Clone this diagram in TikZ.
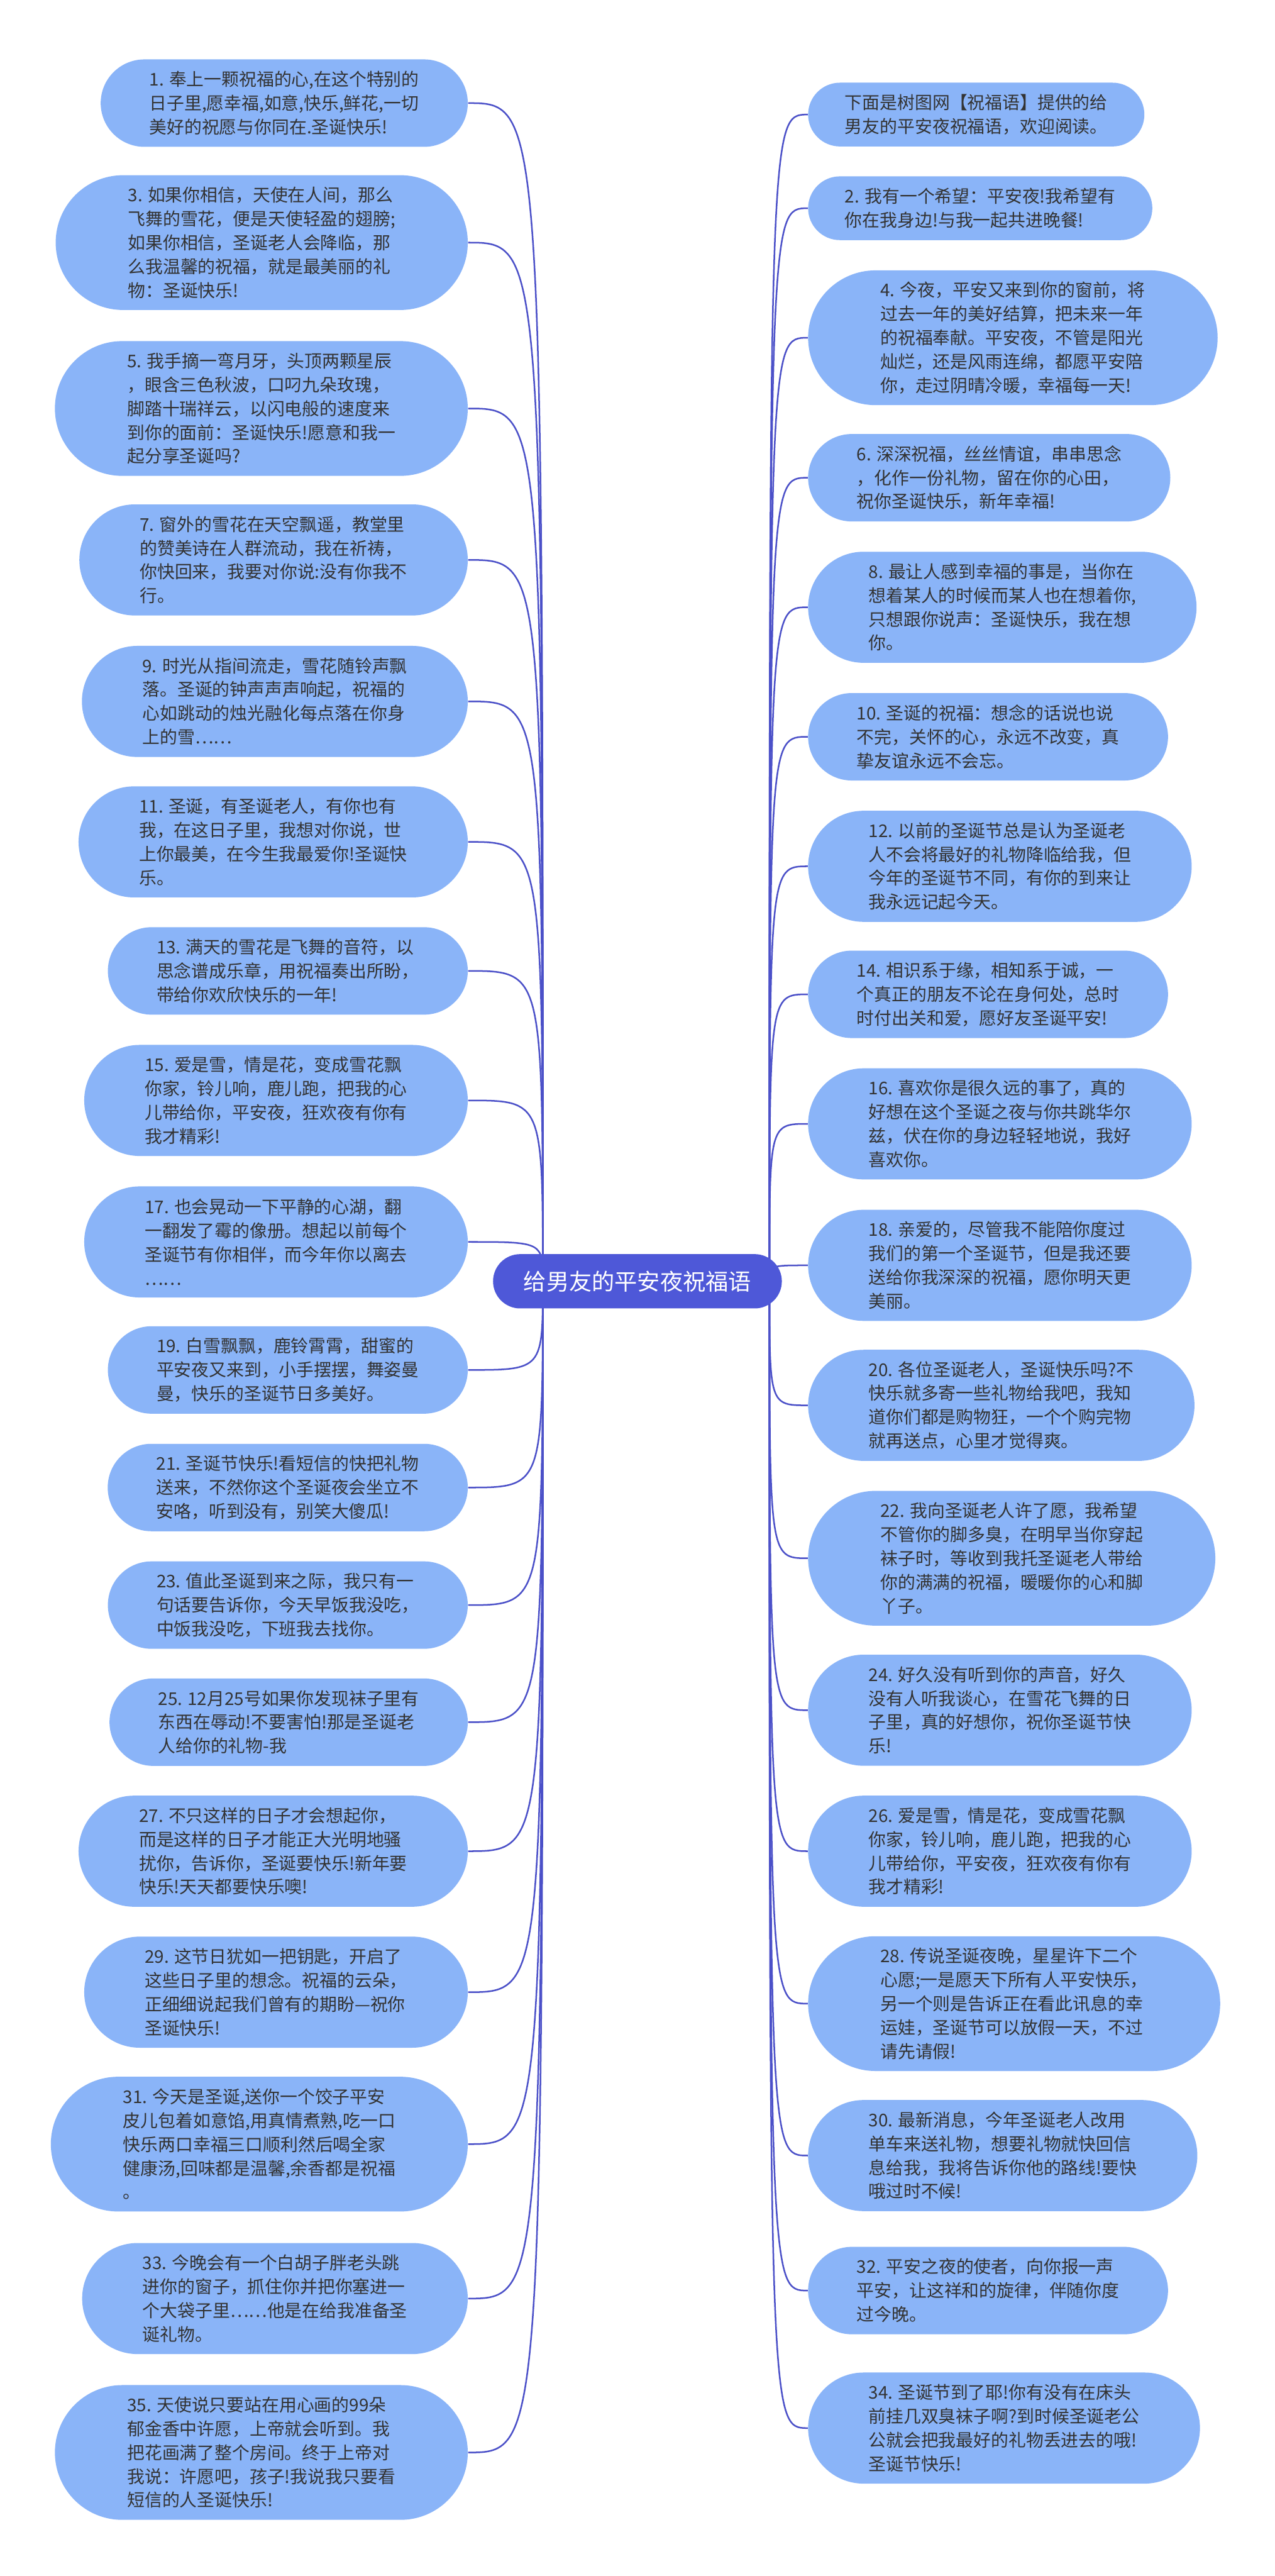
\documentclass[tikz,border=0pt]{standalone}
\usepackage{fontspec}
\setmainfont{Noto Sans CJK SC}
\usetikzlibrary{backgrounds}
\definecolor{notefill}{RGB}{138, 180, 248}
\definecolor{notetext}{RGB}{51, 51, 51}
\definecolor{rootfill}{RGB}{78, 88, 216}
\definecolor{linkblue}{RGB}{75, 80, 200}
\tikzset{
    note/.style={rectangle, fill=notefill, text=notetext, align=left, inner ysep=0pt, font=\fontsize{10pt}{13.6pt}\selectfont},
    root/.style={rectangle, fill=rootfill, text=white, rounded corners=0.545cm, inner xsep=0.615cm, inner ysep=0pt, minimum height=1.09cm, font=\fontsize{13pt}{16pt}\selectfont},
    link/.style={draw=linkblue, line width=0.9pt}
}

\begin{document}
\begin{tikzpicture}
    \useasboundingbox (0,0) rectangle (25.6,-51.71);

    % Macros for the two columns of wishes: name, depth, lines, text
    \def\lnote#1#2#3#4{
        \pgfmathsetmacro{\noteR}{0.2375*#3+0.165}
        \node[note, anchor=east, rounded corners=\noteR cm, inner xsep=\noteR cm+0.1cm, minimum height=2*\noteR cm] (#1) at (9.40,-#2) {#4};
    }
    \def\rnote#1#2#3#4{
        \pgfmathsetmacro{\noteR}{0.2375*#3+0.165}
        \node[note, anchor=west, rounded corners=\noteR cm, inner xsep=\noteR cm+0.1cm, minimum height=2*\noteR cm] (#1) at (16.22,-#2) {#4};
    }

    % Centre topic
    \node[root] (root) at (12.80,-25.72) {给男友的平安夜祝福语};
    \coordinate (cl) at (10.90,-25.72);
    \coordinate (cr) at (15.45,-25.72);

    % Left column
    \lnote{l1}{2.07}{3}{1. 奉上一颗祝福的心,在这个特别的\\日子里,愿幸福,如意,快乐,鲜花,一切\\美好的祝愿与你同在.圣诞快乐!}
    \lnote{l3}{4.87}{5}{3. 如果你相信，天使在人间，那么\\飞舞的雪花，便是天使轻盈的翅膀;\\如果你相信，圣诞老人会降临，那\\么我温馨的祝福，就是最美丽的礼\\物：圣诞快乐!}
    \lnote{l5}{8.20}{5}{5. 我手摘一弯月牙，头顶两颗星辰\\，眼含三色秋波，口叼九朵玫瑰，\\脚踏十瑞祥云，以闪电般的速度来\\到你的面前：圣诞快乐!愿意和我一\\起分享圣诞吗?}
    \lnote{l7}{11.24}{4}{7. 窗外的雪花在天空飘遥，教堂里\\的赞美诗在人群流动，我在祈祷，\\你快回来，我要对你说:没有你我不\\行。}
    \lnote{l9}{14.08}{4}{9. 时光从指间流走，雪花随铃声飘\\落。圣诞的钟声声声响起，祝福的\\心如跳动的烛光融化每点落在你身\\上的雪……}
    \lnote{l11}{16.90}{4}{11. 圣诞，有圣诞老人，有你也有\\我，在这日子里，我想对你说，世\\上你最美，在今生我最爱你!圣诞快\\乐。}
    \lnote{l13}{19.49}{3}{13. 满天的雪花是飞舞的音符，以\\思念谱成乐章，用祝福奏出所盼，\\带给你欢欣快乐的一年!}
    \lnote{l15}{22.09}{4}{15. 爱是雪，情是花，变成雪花飘\\你家，铃儿响，鹿儿跑，把我的心\\儿带给你，平安夜，狂欢夜有你有\\我才精彩!}
    \lnote{l17}{24.93}{4}{17. 也会晃动一下平静的心湖，翻\\一翻发了霉的像册。想起以前每个\\圣诞节有你相伴，而今年你以离去\\……}
    \lnote{l19}{27.50}{3}{19. 白雪飘飘，鹿铃霄霄，甜蜜的\\平安夜又来到，小手摆摆，舞姿曼\\曼，快乐的圣诞节日多美好。}
    \lnote{l21}{29.86}{3}{21. 圣诞节快乐!看短信的快把礼物\\送来，不然你这个圣诞夜会坐立不\\安咯，听到没有，别笑大傻瓜!}
    \lnote{l23}{32.22}{3}{23. 值此圣诞到来之际，我只有一\\句话要告诉你，今天早饭我没吃，\\中饭我没吃，下班我去找你。}
    \lnote{l25}{34.57}{3}{25. 12月25号如果你发现袜子里有\\东西在辱动!不要害怕!那是圣诞老\\人给你的礼物-我}
    \lnote{l27}{37.16}{4}{27. 不只这样的日子才会想起你，\\而是这样的日子才能正大光明地骚\\扰你，告诉你，圣诞要快乐!新年要\\快乐!天天都要快乐噢!}
    \lnote{l29}{39.99}{4}{29. 这节日犹如一把钥匙，开启了\\这些日子里的想念。祝福的云朵，\\正细细说起我们曾有的期盼---祝你\\圣诞快乐!}
    \lnote{l31}{43.04}{5}{31. 今天是圣诞,送你一个饺子平安\\皮儿包着如意馅,用真情煮熟,吃一口\\快乐两口幸福三口顺利然后喝全家\\健康汤,回味都是温馨,余香都是祝福\\。}
    \lnote{l33}{46.14}{4}{33. 今晚会有一个白胡子胖老头跳\\进你的窗子，抓住你并把你塞进一\\个大袋子里……他是在给我准备圣\\诞礼物。}
    \lnote{l35}{49.23}{5}{35. 天使说只要站在用心画的99朵\\郁金香中许愿，上帝就会听到。我\\把花画满了整个房间。终于上帝对\\我说：许愿吧，孩子!我说我只要看\\短信的人圣诞快乐!}

    % Right column
    \rnote{r0}{2.30}{2}{下面是树图网【祝福语】提供的给\\男友的平安夜祝福语，欢迎阅读。}
    \rnote{r2}{4.18}{2}{2. 我有一个希望：平安夜!我希望有\\你在我身边!与我一起共进晚餐!}
    \rnote{r4}{6.78}{5}{4. 今夜，平安又来到你的窗前，将\\过去一年的美好结算，把未来一年\\的祝福奉献。平安夜，不管是阳光\\灿烂，还是风雨连绵，都愿平安陪\\你，走过阴晴冷暖，幸福每一天!}
    \rnote{r6}{9.59}{3}{6. 深深祝福，丝丝情谊，串串思念\\，化作一份礼物，留在你的心田，\\祝你圣诞快乐，新年幸福!}
    \rnote{r8}{12.19}{4}{8. 最让人感到幸福的事是，当你在\\想着某人的时候而某人也在想着你,\\只想跟你说声：圣诞快乐，我在想\\你。}
    \rnote{r10}{14.79}{3}{10. 圣诞的祝福：想念的话说也说\\不完，关怀的心，永远不改变，真\\挚友谊永远不会忘。}
    \rnote{r12}{17.39}{4}{12. 以前的圣诞节总是认为圣诞老\\人不会将最好的礼物降临给我，但\\今年的圣诞节不同，有你的到来让\\我永远记起今天。}
    \rnote{r14}{19.96}{3}{14. 相识系于缘，相知系于诚，一\\个真正的朋友不论在身何处，总时\\时付出关和爱，愿好友圣诞平安!}
    \rnote{r16}{22.56}{4}{16. 喜欢你是很久远的事了，真的\\好想在这个圣诞之夜与你共跳华尔\\兹，伏在你的身边轻轻地说，我好\\喜欢你。}
    \rnote{r18}{25.40}{4}{18. 亲爱的，尽管我不能陪你度过\\我们的第一个圣诞节，但是我还要\\送给你我深深的祝福，愿你明天更\\美丽。}
    \rnote{r20}{28.21}{4}{20. 各位圣诞老人，圣诞快乐吗?不\\快乐就多寄一些礼物给我吧，我知\\道你们都是购物狂，一个个购完物\\就再送点，心里才觉得爽。}
    \rnote{r22}{31.28}{5}{22. 我向圣诞老人许了愿，我希望\\不管你的脚多臭，在明早当你穿起\\袜子时，等收到我托圣诞老人带给\\你的满满的祝福，暖暖你的心和脚\\丫子。}
    \rnote{r24}{34.33}{4}{24. 好久没有听到你的声音，好久\\没有人听我谈心，在雪花飞舞的日\\子里，真的好想你，祝你圣诞节快\\乐!}
    \rnote{r26}{37.16}{4}{26. 爱是雪，情是花，变成雪花飘\\你家，铃儿响，鹿儿跑，把我的心\\儿带给你，平安夜，狂欢夜有你有\\我才精彩!}
    \rnote{r28}{40.22}{5}{28. 传说圣诞夜晚，星星许下二个\\心愿;一是愿天下所有人平安快乐，\\另一个则是告诉正在看此讯息的幸\\运娃，圣诞节可以放假一天，不过\\请先请假!}
    \rnote{r30}{43.27}{4}{30. 最新消息，今年圣诞老人改用\\单车来送礼物，想要礼物就快回信\\息给我，我将告诉你他的路线!要快\\哦过时不候!}
    \rnote{r32}{45.98}{3}{32. 平安之夜的使者，向你报一声\\平安，让这祥和的旋律，伴随你度\\过今晚。}
    \rnote{r34}{48.74}{4}{34. 圣诞节到了耶!你有没有在床头\\前挂几双臭袜子啊?到时候圣诞老公\\公就会把我最好的礼物丢进去的哦!\\圣诞节快乐!}

    % Curved links behind the centre topic
    \begin{scope}[on background layer]
        \fill[white] (0,0) rectangle (25.6,-51.71);
        \foreach \i in {1,3,...,35}
            \draw[link] (cl) .. controls (cl |- l\i.east) .. (l\i.east);
        \foreach \i in {0,2,...,34}
            \draw[link] (cr) .. controls (cr |- r\i.west) .. (r\i.west);
    \end{scope}
\end{tikzpicture}
\end{document}
